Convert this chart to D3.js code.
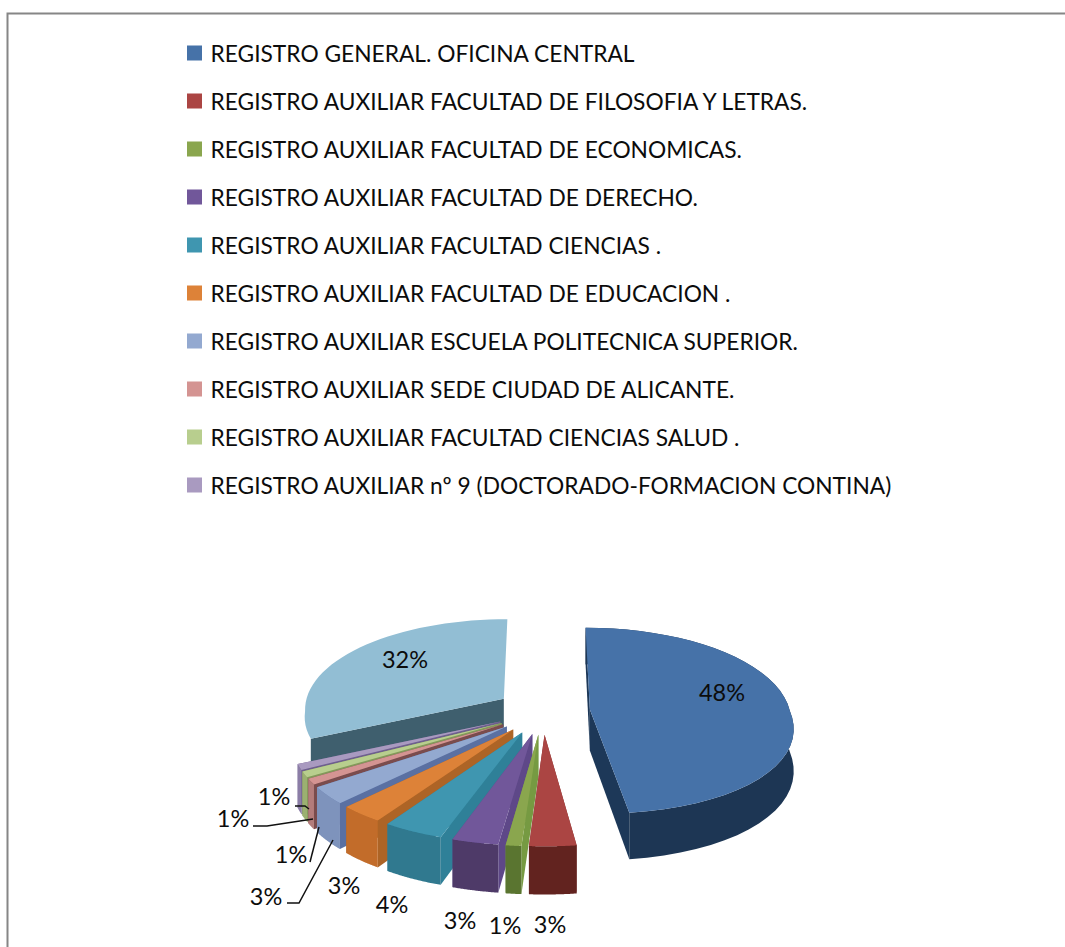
<!DOCTYPE html>
<html><head><meta charset="utf-8">
<script src="https://cdnjs.cloudflare.com/ajax/libs/d3/7.8.5/d3.min.js"></script>
<style>html,body{margin:0;padding:0;background:#fff}svg{display:block}text{font-family:Lato,"Open Sans",sans-serif;fill:#0c0c0c}</style>
</head><body><div id="c"></div>
<script>
const legendNames = [
 "REGISTRO GENERAL. OFICINA CENTRAL",
 "REGISTRO AUXILIAR FACULTAD DE FILOSOFIA Y LETRAS.",
 "REGISTRO AUXILIAR FACULTAD DE ECONOMICAS.",
 "REGISTRO AUXILIAR FACULTAD DE DERECHO.",
 "REGISTRO AUXILIAR FACULTAD CIENCIAS .",
 "REGISTRO AUXILIAR FACULTAD DE EDUCACION .",
 "REGISTRO AUXILIAR ESCUELA POLITECNICA SUPERIOR.",
 "REGISTRO AUXILIAR SEDE CIUDAD DE ALICANTE.",
 "REGISTRO AUXILIAR FACULTAD CIENCIAS SALUD .",
 "REGISTRO AUXILIAR nº 9 (DOCTORADO-FORMACION CONTINA)"
];
const values = [48,3,1,3,4,3,3,1,1,1,32];
const topColors = ["#4672a8","#ab4543","#8aa64e","#71579a","#3f96b0","#dd8238","#93a9d0","#d49492","#b8ce8e","#a99ac0","#92bed4"];
const rimColors = ["#1d3654","#62231f","#5a7530","#4e3a68","#30798f","#c26c2a","#7e93bc","#b37c7b","#9bb071","#8b7da6","#3e5c6b"];
const sideColors = ["#1d3858","#7e2f2c","#769a42","#5e4888","#2f8098","#ad6426","#5a70a2","#7a4c4d","#83995a","#6e5f8e","#3f5f6e"];
const labelLayout = [[722,693],[550,925],[505,926],[460,921],[392,905],[344,886],[266,897],[291,855],[233,819],[274,797],[405,660]];
const leaders = {
  6:[[287,903],[299,903],[333,840]],
  7:[[310,862],[319,827]],
  8:[[253,826],[267,826],[313,819]],
  9:[[295,806],[305,806],[309,809]]
};

const W=1065,H=947;
const cx=543,cy=711,A=200,B=92,kxFront=0.17,kxBack=0.1,ky=0.12,D=41,exX=0.235,exY=0.25;
const svg=d3.select("#c").append("svg").attr("width",W).attr("height",H);
svg.append("path").attr("d",`M7.5 ${H}V13.5H${W}`).attr("fill","none").attr("stroke","#868686").attr("stroke-width",2);

// legend
const rowY=d3.scalePoint().domain(d3.range(legendNames.length)).range([53.5,485.5]);
const leg=svg.append("g").selectAll("g").data(legendNames).join("g").attr("transform",(d,i)=>`translate(187,${rowY(i)})`);
leg.append("rect").attr("x",0).attr("y",-8).attr("width",15).attr("height",15).attr("fill",(d,i)=>topColors[i]);
leg.append("text").attr("x",23.5).attr("dy","0.36em").attr("font-size",22.75).text(d=>d);

// perspective projection of the tilted plane
const sx=Y=>1/(1+(Y>0?kxBack:kxFront)*Y), sy=Y=>1/(1+ky*Y);
const px=(X,Y)=>cx+A*X*sx(Y), py=(Y,z=0)=>cy-B*Y*sy(Y)+z*D*sy(Y);
const arcs=d3.pie().sort(null).startAngle(0).endAngle(2*Math.PI)(values);
const line=d3.line().curve(d3.curveLinear);
const geom=arcs.map(a=>{
  const m=(a.startAngle+a.endAngle)/2, ox=exX*Math.sin(m), oy=exY*Math.cos(m);
  const pt=(t,r,z)=>{const X=ox+r*Math.sin(t),Y=oy+r*Math.cos(t);return [px(X,Y),py(Y,z)];};
  const ts=d3.range(0,41).map(i=>a.startAngle+(a.endAngle-a.startAngle)*i/40);
  return {a,m,pt,ts};
});
const order=[10,0,9,8,7,6,5,4,3,2,1];
const lastIdx=values.length-1;
const g=svg.append("g");
order.forEach(i=>{
  const {pt,ts,a}=geom[i], gg=g.append("g");
  const apexT=pt(0,0,0), apexB=pt(0,0,1);
  const startT=pt(a.startAngle,1,0), startB=pt(a.startAngle,1,1);
  const endT=pt(a.endAngle,1,0), endB=pt(a.endAngle,1,1);
  // walls first, top face last; the back slice shows only its cut face toward the viewer
  if(i!==lastIdx) gg.append("path").attr("d",line([apexT,endT,endB,apexB])+"Z").attr("fill",sideColors[i]);
  gg.append("path").attr("d",line([apexT,startT,startB,apexB])+"Z").attr("fill",sideColors[i]);
  if(i!==lastIdx) gg.append("path").attr("d",line(ts.map(t=>pt(t,1,0)).concat(ts.slice().reverse().map(t=>pt(t,1,1))))+"Z").attr("fill",rimColors[i]);
  gg.append("path").attr("d",line([apexT].concat(ts.map(t=>pt(t,1,0))))+"Z").attr("fill",topColors[i]);
});

// leaders
Object.values(leaders).forEach(p=>{
  svg.append("path").attr("d",line(p)).attr("fill","none").attr("stroke","#111").attr("stroke-width",1.5);
});
// labels
svg.append("g").selectAll("text").data(values).join("text")
  .attr("x",(d,i)=>labelLayout[i][0]).attr("y",(d,i)=>labelLayout[i][1])
  .attr("text-anchor","middle").attr("dy","0.36em").attr("font-size",23.5).text(d=>d+"%");
</script></body></html>
